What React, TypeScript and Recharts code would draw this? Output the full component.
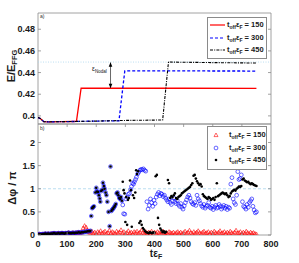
import {
	Line,
	LineChart,
	ReferenceArea,
	ReferenceDot,
	ReferenceLine,
	Scatter,
	ScatterChart,
	XAxis,
	YAxis,
} from "recharts";

// panel a) energy curves, one per pulse-off time
const tRed = [0, 8, 20, 40, 80, 120, 132, 148, 300, 500, 750];
const eRed = [0.3985, 0.3975, 0.3946, 0.3945, 0.3947, 0.3948, 0.3949, 0.4255, 0.4255, 0.4255, 0.4254];
const tBlue = [0, 8, 20, 40, 80, 120, 200, 278, 298, 500, 750];
const eBlue = [0.3985, 0.3975, 0.3946, 0.3945, 0.3947, 0.3948, 0.3952, 0.3955, 0.4415, 0.4415, 0.4414];
const tBlack = [0, 8, 20, 40, 80, 120, 200, 300, 428, 448, 600, 750];
const eBlack = [0.3985, 0.3975, 0.3946, 0.3945, 0.3947, 0.3948, 0.3952, 0.3958, 0.3962, 0.4497, 0.4492, 0.4488];

// panel b) phase difference, all three runs identical at early times
const tEarly = [0, 5, 10, 15, 20, 25, 30, 35, 40, 45, 50, 55, 60, 65, 70, 75, 80, 85, 90, 95, 100, 105, 110, 115, 120, 125, 130, 135, 140, 145, 150, 155, 160, 165, 170, 175, 180];
const vEarly = [0.01, 0.02, 0.01, 0.02, 0.02, 0.03, 0.02, 0.03, 0.02, 0.03, 0.03, 0.04, 0.03, 0.03, 0.04, 0.03, 0.04, 0.04, 0.03, 0.04, 0.04, 0.05, 0.04, 0.04, 0.05, 0.04, 0.05, 0.05, 0.06, 0.05, 0.06, 0.06, 0.07, 0.07, 0.08, 0.08, 0.09];

const redStart = 155;
const redStep = 5;
const vRedLate = [
	0.15, 0.2, 0.17, 0.1, 0.06, 0.05, 0.08, 0.04, 0.06, 0.03, 0.07, 0.05, 0.09, 0.04, 0.06, 0.08, 0.03, 0.05, 0.1, 0.04,
	0.07, 0.05, 0.03, 0.08, 0.05, 0.06, 0.11, 0.04, 0.07, 0.03, 0.05, 0.09, 0.04, 0.06, 0.03, 0.07, 0.05, 0.08, 0.04, 0.06,
	0.1, 0.05, 0.03, 0.07, 0.04, 0.06, 0.05, 0.08, 0.03, 0.06, 0.04, 0.07, 0.05, 0.03, 0.06, 0.08, 0.04, 0.05, 0.03, 0.07,
	0.05, 0.04, 0.06, 0.03, 0.05, 0.07, 0.04, 0.06, 0.03, 0.05, 0.08, 0.04, 0.06, 0.1, 0.05, 0.03, 0.07, 0.04, 0.06, 0.09,
	0.05, 0.03, 0.06, 0.08, 0.04, 0.05, 0.07, 0.03, 0.06, 0.04, 0.08, 0.05, 0.03, 0.06, 0.09, 0.04, 0.05, 0.07, 0.03, 0.06,
	0.04, 0.08, 0.05, 0.03, 0.06, 0.1, 0.04, 0.05, 0.07, 0.03, 0.06, 0.04, 0.08, 0.05, 0.03, 0.06, 0.04, 0.05, 0.03, 0.02,
];

// t_off = 300 and 450 still identical until the first pulse ends
const midShared: [number, number][] = [
	[183, 0.41], [186, 0.58], [189, 0.6], [192, 0.62], [197, 0.92], [200, 1.02], [203, 0.94], [206, 0.93], [209, 0.86],
	[212, 0.79], [214, 0.72], [217, 0.95], [221, 0.98], [223, 1.13], [226, 1.06], [229, 1.0], [232, 0.92], [235, 0.86],
	[238, 0.72], [242, 0.5], [246, 0.19], [249, 1.48], [252, 0.52], [255, 0.55], [258, 0.57], [261, 0.6], [264, 0.63],
	[267, 0.67], [270, 0.9], [273, 0.92], [276, 0.86], [279, 0.8], [282, 0.78], [285, 0.82], [288, 0.74],
];

const blueLate: [number, number][] = [
	[291, 0.65], [294, 0.46], [298, 0.45], [302, 0.78], [306, 0.82], [310, 0.88], [314, 0.9], [318, 0.98], [321, 1.05],
	[325, 1.12], [328, 1.1], [331, 1.15], [335, 1.2], [338, 1.25], [342, 1.32], [346, 1.36], [350, 1.4], [354, 1.42],
	[358, 1.41], [362, 1.43], [366, 1.4], [370, 1.38], [374, 0.72], [378, 0.56], [382, 0.64], [386, 0.78], [390, 0.7],
	[394, 0.62], [398, 0.75], [402, 0.68], [406, 0.82], [410, 0.88], [414, 0.92], [418, 0.85], [422, 0.9], [426, 0.88],
	[430, 0.83], [434, 0.86], [438, 0.8], [442, 0.76], [446, 0.72], [450, 0.78], [454, 0.7], [458, 0.66], [462, 0.74],
	[466, 0.8], [470, 0.72], [474, 0.68], [478, 0.75], [482, 0.66], [486, 0.62], [490, 0.68], [494, 0.6], [498, 0.56],
	[502, 0.63], [506, 0.7], [510, 0.76], [514, 0.82], [518, 0.86], [522, 0.8], [526, 0.72], [530, 0.68], [534, 0.66],
	[538, 0.7], [542, 0.64], [546, 0.86], [550, 0.78], [554, 0.74], [558, 0.68], [562, 0.63], [566, 0.6], [570, 0.66],
	[574, 0.58], [578, 0.62], [582, 0.64], [586, 0.7], [590, 0.6], [594, 0.58], [598, 0.62], [602, 0.55], [606, 0.6],
	[610, 0.64], [614, 0.58], [618, 0.6], [622, 0.66], [626, 0.62], [630, 0.56], [634, 0.6], [638, 0.64], [642, 0.58],
	[646, 0.62], [650, 0.55], [654, 0.6], [658, 0.58], [662, 1.1], [666, 1.24], [670, 0.78], [674, 0.7], [678, 0.66],
	[682, 0.86], [686, 1.37], [690, 1.2], [694, 1.22], [698, 1.3], [702, 0.72], [706, 0.62], [710, 0.6], [714, 0.56],
	[718, 0.66], [722, 0.6], [726, 0.7], [730, 0.74], [734, 0.78], [738, 0.62], [742, 0.54], [746, 0.48], [750, 0.5],
];

const blackLate: [number, number][] = [
	[291, 1.15], [294, 0.97], [297, 0.9], [300, 0.28], [303, 0.82], [306, 0.22], [309, 0.76], [312, 0.8], [316, 1.18],
	[319, 0.97], [322, 0.18], [326, 0.86], [330, 0.8], [334, 0.92], [337, 1.4], [340, 1.32], [344, 1.38], [348, 0.26],
	[352, 0.3], [356, 0.22], [360, 0.15], [364, 0.12], [368, 0.08], [372, 0.06], [376, 0.05], [380, 0.04], [384, 0.06],
	[388, 0.05], [392, 0.04], [396, 0.06], [400, 0.05], [404, 1.27], [408, 1.3], [412, 0.37], [416, 0.22], [420, 0.14],
	[424, 0.1], [428, 0.06], [432, 0.08], [436, 0.05], [440, 0.07], [446, 1.19], [450, 1.12], [454, 0.8], [458, 0.84],
	[462, 0.82], [466, 0.86], [470, 0.9], [474, 0.8], [478, 0.78], [482, 0.82], [486, 0.84], [490, 0.86], [494, 0.9],
	[498, 0.92], [502, 0.94], [506, 0.96], [510, 0.98], [514, 1.0], [518, 1.02], [522, 1.04], [526, 1.08], [530, 1.12],
	[534, 1.28], [538, 1.3], [542, 1.22], [546, 1.16], [550, 1.12], [554, 1.08], [558, 1.1], [562, 1.05], [566, 0.88],
	[570, 0.84], [574, 0.82], [578, 0.8], [582, 0.78], [586, 0.82], [590, 0.8], [594, 0.76], [598, 0.78], [602, 0.8],
	[606, 0.76], [610, 0.82], [614, 1.12], [618, 0.84], [622, 0.86], [626, 0.88], [630, 0.9], [634, 0.92], [638, 0.9],
	[642, 0.88], [646, 0.9], [650, 0.86], [654, 0.82], [658, 0.84], [662, 0.9], [666, 0.94], [670, 0.96], [674, 0.98],
	[678, 0.96], [682, 1.0], [686, 1.02], [690, 1.05], [694, 1.04], [698, 1.06], [702, 1.2], [706, 1.22], [710, 1.18],
	[714, 1.16], [718, 1.14], [722, 1.15], [726, 1.12], [730, 1.1], [734, 1.12], [738, 1.1], [742, 1.08], [746, 1.07],
	[750, 1.06],
];

const offTimes = ["150", "300", "450"];
const xTicks = [0, 100, 200, 300, 400, 500, 600, 700, 800];
const yTicksA = [0.4, 0.42, 0.44, 0.46, 0.48];
const yTicksB = [0, 0.5, 1, 1.5, 2];

const FONT = "'Liberation Sans', Arial, Helvetica, sans-serif";
const AXIS = "#8a8a8a";
const PL = 38;
const PR = 271;

const zipE = (t: number[], e: number[]) => t.map((x, i) => ({ t: x, e: e[i] }));
const pts = (a: [number, number][]) => a.map(([t, v]) => ({ t, v }));
const early = tEarly.map((t, i) => ({ t, v: vEarly[i] }));

const redData = [
	...early.filter((p) => p.t <= 150),
	...vRedLate.map((v, i) => ({ t: redStart + i * redStep, v })),
];
const blueData = [...early, ...pts(midShared), ...pts(blueLate)];
const blackData = [...early, ...pts(midShared), ...pts(blackLate)];

const makeYTick = () => (p: any) => {
	const y = p.y;
	const v = p.payload.value;
	return (
		<g>
			<line x1={PL} x2={PL + 3} y1={y} y2={y} stroke={AXIS} strokeWidth={0.8} />
			<line x1={PR - 3} x2={PR} y1={y} y2={y} stroke={AXIS} strokeWidth={0.8} />
			<text x={PL - 3} y={y} dy={3.2} textAnchor="end" fontSize={9} fontWeight="bold" fontFamily={FONT} fill="#1a1a1a">
				{String(v)}
			</text>
		</g>
	);
};

const makeXTick = (top: number, bottom: number, labels: boolean) => (p: any) => {
	const x = p.x;
	const v = p.payload.value;
	const inner = v !== 0 && v !== 800;
	return (
		<g>
			{inner && <line x1={x} x2={x} y1={bottom} y2={bottom - 3} stroke={AXIS} strokeWidth={0.8} />}
			{inner && <line x1={x} x2={x} y1={top} y2={top + 3} stroke={AXIS} strokeWidth={0.8} />}
			{labels && (
				<text x={x} y={bottom + 12} textAnchor="middle" fontSize={9} fontWeight="bold" fontFamily={FONT} fill="#1a1a1a">
					{v}
				</text>
			)}
		</g>
	);
};

const triangle = (p: any) => (
	<path
		d={`M${p.cx},${p.cy - 2.1} L${p.cx + 2},${p.cy + 1.5} L${p.cx - 2},${p.cy + 1.5} Z`}
		fill="none"
		stroke="#ff0000"
		strokeWidth={0.6}
	/>
);
const ring = (p: any) => <circle cx={p.cx} cy={p.cy} r={1.9} fill="none" stroke="#0000ff" strokeWidth={0.6} />;
const dot = (p: any) => <circle cx={p.cx} cy={p.cy} r={1.3} fill="#000" />;

const arrowUp = (p: any) => <path d={`M${p.cx},${p.cy} l-1.8,4.5 h3.6 z`} fill="#000" />;
const arrowDown = (p: any) => <path d={`M${p.cx},${p.cy} l-1.8,-4.5 h3.6 z`} fill="#000" />;
const nodalLabel = (p: any) => (
	<text x={p.cx} y={p.cy} textAnchor="end" fontSize={6.5} fontFamily={FONT} fill="#111">
		ε<tspan fontSize={4.5} dy={1.5}>Nodal</tspan>
	</text>
);

const offLabel = (n: string) => (
	<span>
		t<sub style={{ fontSize: 5, verticalAlign: "-1.5px" }}>off</sub>ε
		<sub style={{ fontSize: 5, verticalAlign: "-1.5px" }}>F</sub> = {n}
	</span>
);

const lineSamples = [
	{ color: "#ff0000", dash: undefined as string | undefined },
	{ color: "#0000ff", dash: "3 2" },
	{ color: "#000000", dash: "3 1.2 1 1.2" },
];

const boxStyle = (left: number, top: number) => ({
	position: "absolute" as const,
	left,
	top,
	border: `1px solid ${AXIS}`,
	background: "#fff",
	width: 58,
	fontFamily: FONT,
	fontSize: 7.5,
	fontWeight: "bold" as const,
	color: "#1a1a1a",
	lineHeight: 1,
});

const LegendA = () => (
	<div style={{ ...boxStyle(207, 17), padding: "1px 0 1px 0" }}>
		{offTimes.map((n, i) => (
			<div key={n} style={{ display: "flex", alignItems: "center", height: 12.6 }}>
				<svg width={19} height={6} style={{ flex: "none" }}>
					<line x1={2} x2={17} y1={3} y2={3} stroke={lineSamples[i].color} strokeWidth={1.2} strokeDasharray={lineSamples[i].dash} />
				</svg>
				{offLabel(n)}
			</div>
		))}
	</div>
);

const markerSamples = [
	<path key="a" d="M4,1 L6,4.6 L2,4.6 Z" fill="none" stroke="#ff0000" strokeWidth={0.6} />,
	<circle key="b" cx={4} cy={3} r={1.9} fill="none" stroke="#0000ff" strokeWidth={0.6} />,
	<circle key="c" cx={4} cy={3} r={1.3} fill="#000" />,
];

const LegendB = () => (
	<div style={{ ...boxStyle(207, 126), padding: "2px 0 2px 0" }}>
		{offTimes.map((n, i) => (
			<div key={n} style={{ display: "flex", alignItems: "center", height: 12.6 }}>
				<svg width={17} height={6} style={{ flex: "none", marginLeft: 4 }}>
					{markerSamples[i]}
				</svg>
				{offLabel(n)}
			</div>
		))}
	</div>
);

const App = () => {
	return (
		<div style={{ position: "absolute", left: 0, top: 0, width: 299, height: 263, background: "#fff", fontFamily: FONT }}>
			<div style={{ position: "absolute", left: 0, top: 0 }}>
				<LineChart width={299} height={134} margin={{ top: 13, right: 28, bottom: 10, left: 0 }}>
					<XAxis
						type="number"
						dataKey="t"
						domain={[0, 800]}
						ticks={xTicks}
						interval={0}
						height={0}
						axisLine={false}
						tickLine={false}
						tickSize={0}
						tick={makeXTick(13, 124, false)}
						allowDataOverflow
					/>
					<YAxis
						type="number"
						domain={[0.3925, 0.495]}
						ticks={yTicksA}
						interval={0}
						width={38}
						axisLine={false}
						tickLine={false}
						tickSize={0}
						tick={makeYTick()}
						allowDataOverflow
					/>
					<ReferenceArea x1={0} x2={800} y1={0.3925} y2={0.495} fill="none" stroke={AXIS} strokeWidth={0.8} />
					<ReferenceLine y={0.4497} stroke="#a9d6ee" strokeWidth={0.8} strokeDasharray="1 1.5" />
					<Line data={zipE(tRed, eRed)} dataKey="e" stroke="#ff0000" strokeWidth={1.3} dot={false} isAnimationActive={false} />
					<Line data={zipE(tBlue, eBlue)} dataKey="e" stroke="#0000ff" strokeWidth={1.3} strokeDasharray="3 2" dot={false} isAnimationActive={false} />
					<Line data={zipE(tBlack, eBlack)} dataKey="e" stroke="#000000" strokeWidth={1.1} strokeDasharray="3 1.2 1 1.2" dot={false} isAnimationActive={false} />
					<ReferenceLine segment={[{ x: 249, y: 0.4492 }, { x: 249, y: 0.4258 }]} stroke="#000" strokeWidth={0.6} />
					<ReferenceDot x={249} y={0.4495} r={0} shape={arrowUp} />
					<ReferenceDot x={249} y={0.4255} r={0} shape={arrowDown} />
					<ReferenceDot x={236} y={0.4412} r={0} shape={nodalLabel} />
				</LineChart>
			</div>
			<div style={{ position: "absolute", left: 0, top: 114 }}>
				<ScatterChart width={299} height={149} margin={{ top: 10, right: 28, bottom: 0, left: 0 }}>
					<XAxis
						type="number"
						dataKey="t"
						domain={[0, 800]}
						ticks={xTicks}
						interval={0}
						height={28}
						axisLine={false}
						tickLine={false}
						tickSize={0}
						tick={makeXTick(10, 121, true)}
						allowDataOverflow
					/>
					<YAxis
						type="number"
						dataKey="v"
						domain={[0, 2.4]}
						ticks={yTicksB}
						interval={0}
						width={38}
						axisLine={false}
						tickLine={false}
						tickSize={0}
						tick={makeYTick()}
						allowDataOverflow
					/>
					<ReferenceArea x1={0} x2={800} y1={0} y2={2.4} fill="none" stroke={AXIS} strokeWidth={0.8} />
					<ReferenceLine y={1} stroke="#a9d6ee" strokeWidth={0.8} strokeDasharray="3 2" />
					<Scatter data={redData} shape={triangle} isAnimationActive={false} />
					<Scatter data={blueData} shape={ring} isAnimationActive={false} />
					<Scatter data={blackData} shape={dot} isAnimationActive={false} />
				</ScatterChart>
			</div>
			<LegendA />
			<LegendB />
			<div style={{ position: "absolute", left: 40, top: 13, fontSize: 5, color: "#333" }}>a)</div>
			<div style={{ position: "absolute", left: 40, top: 125, fontSize: 5, color: "#333" }}>b)</div>
			<div
				style={{
					position: "absolute",
					left: 12,
					top: 66,
					transform: "translate(-50%, -50%) rotate(-90deg)",
					whiteSpace: "nowrap",
					fontSize: 11,
					fontWeight: "bold",
					color: "#1a1a1a",
				}}
			>
				E/E<sub style={{ fontSize: 7.5, verticalAlign: "-2px" }}>FFG</sub>
			</div>
			<div
				style={{
					position: "absolute",
					left: 12,
					top: 188,
					transform: "translate(-50%, -50%) rotate(-90deg)",
					whiteSpace: "nowrap",
					fontSize: 11,
					fontWeight: "bold",
					color: "#1a1a1a",
				}}
			>
				Δφ / π
			</div>
			<div
				style={{
					position: "absolute",
					left: 156,
					top: 254,
					transform: "translate(-50%, -50%)",
					whiteSpace: "nowrap",
					fontSize: 10,
					fontWeight: "bold",
					color: "#1a1a1a",
				}}
			>
				tε<sub style={{ fontSize: 7, verticalAlign: "-2px" }}>F</sub>
			</div>
		</div>
	);
};

export default App;
